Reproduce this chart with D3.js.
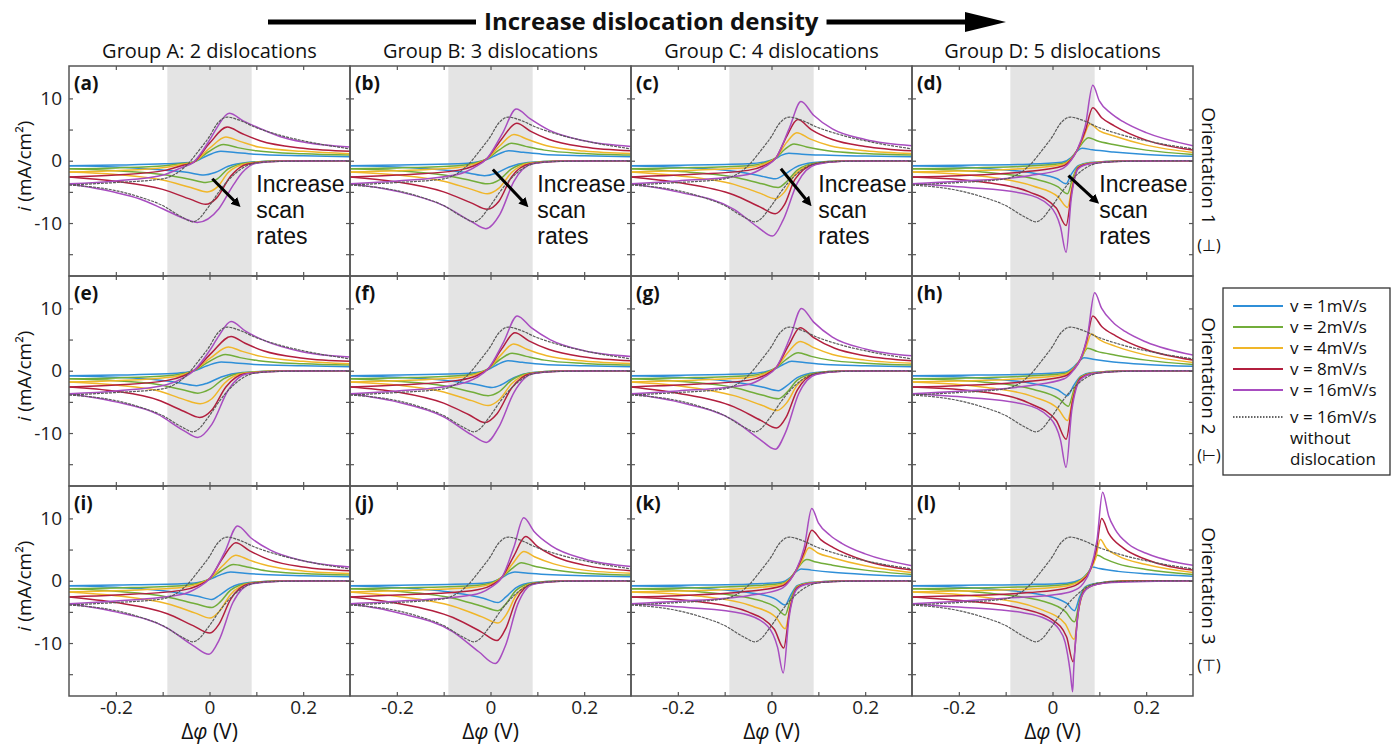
<!DOCTYPE html>
<html>
<head>
<meta charset="utf-8">
<script src="https://cdn.jsdelivr.net/npm/d3@7"></script>
<style>
  body { margin: 0; background: #fff; }
  svg { font-family: "Open Sans", sans-serif; }
</style>
</head>
<body>
<div id="chart"></div>
<script>
// labels
var groupTitles = ["Group A: 2 dislocations", "Group B: 3 dislocations", "Group C: 4 dislocations", "Group D: 5 dislocations"];
var orientLabels = ["Orientation 1", "Orientation 2", "Orientation 3"];
var orientSymbols = ["(\u22A5)", "(\u22A2)", "(\u22A4)"];
var panelLetters = ["(a)", "(b)", "(c)", "(d)", "(e)", "(f)", "(g)", "(h)", "(i)", "(j)", "(k)", "(l)"];
var rateLabels = ["v = 1mV/s", "v = 2mV/s", "v = 4mV/s", "v = 8mV/s", "v = 16mV/s"];
var rateColors = ["#2f8fd8", "#72ad3a", "#f0b629", "#b21f3e", "#a84dc0"];
var xTicks = [-0.2, -0.1, 0, 0.1, 0.2];
var xTickLabels = [-0.2, 0, 0.2];
var yTicks = [-15, -10, -5, 0, 5, 10];
var yTickLabels = [-10, 0, 10];

// reference curve without dislocation (same in every panel)
var grayFwd = [[-0.3,-3.9],[-0.2,-3.5],[-0.1,-2.9],[-0.07,-2.0],[-0.05,-0.8],[-0.02,1.9],[0,3.9],[0.015,5.8],[0.038,7.0],[0.06,6.6],[0.1,5.3],[0.15,4.1],[0.2,3.2],[0.3,1.9]];
var grayRev = [[0.3,0],[0.15,-0.1],[0.1,-0.35],[0.07,-1.2],[0.05,-2.4],[0.02,-5.0],[0,-7.2],[-0.035,-9.8],[-0.06,-9.0],[-0.1,-7.2],[-0.15,-5.8],[-0.2,-4.8],[-0.3,-3.9]];

// (a)
var fwdA = [
  [[-0.3,-0.8],[-0.2,-0.7],[-0.095,-0.5],[-0.06,-0.35],[-0.035,-0.2],[-0.005,0.8],[0.024,1.5],[0.055,1.3],[0.095,1.05],[0.2,0.8],[0.3,0.65]],
  [[-0.3,-1.3],[-0.2,-1.15],[-0.095,-0.8],[-0.06,-0.45],[-0.035,-0.25],[-0.003,1.4],[0.03,2.6],[0.06,2.1],[0.1,1.6],[0.2,1.1],[0.3,0.9]],
  [[-0.3,-1.8],[-0.2,-1.6],[-0.095,-1.1],[-0.06,-0.6],[-0.035,-0.25],[0,2.0],[0.035,3.8],[0.065,3.1],[0.105,2.2],[0.2,1.5],[0.3,1.1]],
  [[-0.3,-2.6],[-0.2,-2.3],[-0.095,-1.55],[-0.06,-0.8],[-0.035,-0.3],[0,2.8],[0.038,5.4],[0.068,4.4],[0.108,3.2],[0.2,2.0],[0.3,1.5]],
  [[-0.3,-3.7],[-0.2,-3.25],[-0.095,-2.2],[-0.06,-1.1],[-0.035,-0.3],[0,3.3],[0.015,5.2],[0.042,7.6],[0.072,6.4],[0.11,5.1],[0.15,3.9],[0.2,3.0],[0.3,2.2]]
];
var revA = [
  [[0.3,0],[0.15,-0.05],[0.08,-0.3],[0.04,-0.9],[0.012,-1.9],[-0.012,-2.3],[-0.045,-1.9],[-0.1,-1.5],[-0.2,-1.0],[-0.3,-0.8]],
  [[0.3,0],[0.15,-0.05],[0.08,-0.35],[0.04,-1.3],[0.015,-3.0],[-0.008,-3.5],[-0.04,-3.0],[-0.1,-2.2],[-0.2,-1.6],[-0.3,-1.3]],
  [[0.3,0],[0.15,-0.06],[0.08,-0.45],[0.04,-1.9],[0.017,-4.2],[-0.005,-5.0],[-0.04,-4.3],[-0.1,-3.1],[-0.2,-2.2],[-0.3,-1.8]],
  [[0.3,0],[0.15,-0.08],[0.08,-0.55],[0.045,-2.5],[0.015,-6.0],[-0.008,-7.0],[-0.04,-6.2],[-0.1,-4.6],[-0.2,-3.3],[-0.3,-2.6]],
  [[0.3,0],[0.15,-0.1],[0.1,-0.4],[0.07,-1.9],[0.05,-4.0],[0.02,-7.7],[-0.026,-9.9],[-0.05,-9.4],[-0.1,-7.7],[-0.15,-6.1],[-0.2,-5.1],[-0.3,-3.7]]
];

// (b)
var fwdB = [
  [[-0.3,-0.8],[-0.2,-0.7],[-0.07,-0.5],[-0.035,-0.3],[-0.008,0.2],[0.015,1.0],[0.039,1.6],[0.07,1.35],[0.11,1.05],[0.2,0.8],[0.3,0.65]],
  [[-0.3,-1.3],[-0.2,-1.15],[-0.07,-0.8],[-0.035,-0.4],[-0.008,0.3],[0.018,1.7],[0.045,2.8],[0.075,2.3],[0.115,1.7],[0.2,1.15],[0.3,0.9]],
  [[-0.3,-1.8],[-0.2,-1.6],[-0.07,-1.1],[-0.035,-0.55],[-0.008,0.3],[0.02,2.4],[0.05,4.2],[0.08,3.4],[0.12,2.4],[0.2,1.55],[0.3,1.15]],
  [[-0.3,-2.6],[-0.2,-2.3],[-0.07,-1.55],[-0.035,-0.8],[-0.008,0.3],[0.022,3.3],[0.056,6.0],[0.086,4.7],[0.125,3.4],[0.2,2.2],[0.3,1.6]],
  [[-0.3,-3.7],[-0.2,-3.25],[-0.07,-2.2],[-0.035,-1.1],[-0.008,0.3],[0.025,4.3],[0.055,8.3],[0.085,6.7],[0.125,4.9],[0.2,3.2],[0.3,2.3]]
];
var revB = [
  [[0.3,0],[0.15,-0.05],[0.08,-0.3],[0.04,-1.0],[0.012,-2.0],[-0.013,-2.4],[-0.045,-2.0],[-0.1,-1.5],[-0.2,-1.0],[-0.3,-0.8]],
  [[0.3,0],[0.15,-0.05],[0.08,-0.35],[0.045,-1.3],[0.018,-3.1],[-0.007,-3.7],[-0.04,-3.2],[-0.1,-2.3],[-0.2,-1.6],[-0.3,-1.3]],
  [[0.3,0],[0.15,-0.06],[0.08,-0.45],[0.045,-1.9],[0.018,-4.4],[-0.007,-5.3],[-0.04,-4.6],[-0.1,-3.3],[-0.2,-2.3],[-0.3,-1.8]],
  [[0.3,0],[0.15,-0.08],[0.085,-0.5],[0.045,-2.6],[0.018,-6.5],[-0.007,-7.8],[-0.04,-6.8],[-0.1,-5.0],[-0.2,-3.4],[-0.3,-2.6]],
  [[0.3,0],[0.15,-0.1],[0.09,-0.5],[0.05,-3.3],[0.02,-8.6],[-0.01,-10.9],[-0.04,-9.8],[-0.1,-7.2],[-0.2,-4.9],[-0.3,-3.7]]
];

// (c)
var fwdC = [
  [[-0.3,-0.8],[-0.2,-0.72],[-0.05,-0.5],[-0.015,-0.2],[0.01,0.4],[0.022,0.9],[0.037,1.2],[0.065,1.05],[0.11,0.9],[0.2,0.75],[0.3,0.65]],
  [[-0.3,-1.3],[-0.2,-1.15],[-0.05,-0.8],[-0.015,-0.35],[0.01,0.5],[0.028,1.8],[0.048,2.7],[0.075,2.2],[0.12,1.6],[0.2,1.15],[0.3,0.9]],
  [[-0.3,-1.8],[-0.2,-1.6],[-0.05,-1.1],[-0.015,-0.5],[0.01,0.5],[0.032,2.9],[0.054,4.5],[0.082,3.5],[0.125,2.4],[0.2,1.6],[0.3,1.15]],
  [[-0.3,-2.6],[-0.2,-2.3],[-0.05,-1.55],[-0.015,-0.75],[0.01,0.5],[0.033,4.0],[0.056,6.6],[0.085,5.0],[0.13,3.4],[0.2,2.3],[0.3,1.6]],
  [[-0.3,-3.7],[-0.2,-3.25],[-0.05,-2.2],[-0.015,-1.0],[0.01,0.5],[0.038,5.2],[0.063,9.5],[0.09,7.3],[0.13,5.1],[0.2,3.4],[0.3,2.4]]
];
var revC = [
  [[0.3,0],[0.15,-0.05],[0.09,-0.3],[0.05,-1.1],[0.028,-2.2],[0.008,-2.9],[-0.025,-2.4],[-0.08,-1.7],[-0.2,-1.05],[-0.3,-0.8]],
  [[0.3,0],[0.15,-0.05],[0.095,-0.35],[0.055,-1.5],[0.033,-3.3],[0.014,-4.3],[-0.02,-3.7],[-0.08,-2.6],[-0.2,-1.7],[-0.3,-1.3]],
  [[0.3,0],[0.15,-0.06],[0.095,-0.45],[0.05,-2.2],[0.028,-5.0],[0.008,-6.1],[-0.025,-5.2],[-0.08,-3.8],[-0.2,-2.4],[-0.3,-1.8]],
  [[0.3,0],[0.15,-0.08],[0.095,-0.5],[0.05,-3.0],[0.028,-7.0],[0.008,-8.5],[-0.025,-7.4],[-0.08,-5.5],[-0.2,-3.5],[-0.3,-2.6]],
  [[0.3,0],[0.15,-0.1],[0.095,-0.6],[0.055,-3.6],[0.025,-9.5],[0.002,-12.1],[-0.03,-10.6],[-0.08,-7.8],[-0.2,-5.0],[-0.3,-3.7]]
];

// (d)
var fwdD = [
  [[-0.3,-0.8],[-0.2,-0.72],[-0.05,-0.55],[0.02,-0.25],[0.04,0.5],[0.052,1.5],[0.063,2.0],[0.085,1.75],[0.13,1.4],[0.2,1.0],[0.3,0.7]],
  [[-0.3,-1.3],[-0.2,-1.2],[-0.05,-0.85],[0.02,-0.45],[0.04,0.4],[0.052,1.6],[0.077,3.7],[0.095,3.2],[0.13,2.6],[0.2,1.7],[0.3,1.0]],
  [[-0.3,-1.8],[-0.2,-1.65],[-0.05,-1.2],[0.02,-0.65],[0.04,0.3],[0.052,1.6],[0.065,3.5],[0.08,5.9],[0.1,4.8],[0.13,4.0],[0.2,2.5],[0.3,1.3]],
  [[-0.3,-2.6],[-0.2,-2.4],[-0.05,-1.7],[0.02,-0.9],[0.04,0.2],[0.052,1.6],[0.07,4.8],[0.086,8.5],[0.105,6.9],[0.132,5.6],[0.2,3.3],[0.3,1.7]],
  [[-0.3,-3.7],[-0.2,-3.3],[-0.05,-2.4],[0.02,-1.3],[0.04,0.1],[0.052,1.6],[0.07,5.6],[0.086,12.1],[0.1,9.6],[0.125,7.6],[0.15,6.3],[0.2,4.5],[0.3,2.4]]
];
var revD = [
  [[0.3,0],[0.15,-0.05],[0.08,-0.3],[0.055,-0.8],[0.04,-2.2],[0.029,-3.7],[0.01,-2.9],[-0.04,-2.0],[-0.15,-1.2],[-0.3,-0.8]],
  [[0.3,0],[0.15,-0.05],[0.08,-0.35],[0.055,-0.9],[0.043,-2.8],[0.032,-5.3],[0.012,-4.2],[-0.04,-2.9],[-0.15,-1.8],[-0.3,-1.3]],
  [[0.3,0],[0.15,-0.06],[0.08,-0.4],[0.055,-1.0],[0.043,-3.6],[0.032,-7.5],[0.012,-5.8],[-0.04,-4.1],[-0.15,-2.5],[-0.3,-1.8]],
  [[0.3,0],[0.15,-0.08],[0.08,-0.45],[0.055,-1.1],[0.042,-4.5],[0.029,-10.4],[0.008,-7.6],[-0.05,-5.0],[-0.15,-3.4],[-0.3,-2.6]],
  [[0.3,0],[0.15,-0.1],[0.08,-0.5],[0.055,-1.3],[0.04,-6.1],[0.029,-14.7],[0.017,-10.6],[-0.005,-7.3],[-0.06,-5.3],[-0.18,-4.3],[-0.3,-3.7]]
];

// (e)
var fwdE = [
  [[-0.3,-0.8],[-0.2,-0.7],[-0.09,-0.5],[-0.055,-0.3],[-0.032,0.0],[-0.005,0.8],[0.025,1.4],[0.055,1.25],[0.095,1.0],[0.2,0.8],[0.3,0.65]],
  [[-0.3,-1.3],[-0.2,-1.15],[-0.09,-0.8],[-0.055,-0.45],[-0.032,0.05],[0,1.5],[0.034,2.6],[0.065,2.1],[0.105,1.6],[0.2,1.1],[0.3,0.9]],
  [[-0.3,-1.8],[-0.2,-1.6],[-0.09,-1.1],[-0.055,-0.6],[-0.032,0.1],[0.003,2.1],[0.04,3.8],[0.07,3.1],[0.11,2.3],[0.2,1.5],[0.3,1.1]],
  [[-0.3,-2.6],[-0.2,-2.3],[-0.09,-1.55],[-0.055,-0.8],[-0.032,0.1],[0.005,2.9],[0.046,5.5],[0.076,4.4],[0.115,3.2],[0.2,2.0],[0.3,1.5]],
  [[-0.3,-3.7],[-0.2,-3.25],[-0.09,-2.2],[-0.055,-1.1],[-0.032,0.1],[0,3.2],[0.02,5.6],[0.046,7.9],[0.076,6.4],[0.115,4.9],[0.2,3.0],[0.3,2.2]]
];
var revE = [
  [[0.3,0],[0.15,-0.05],[0.07,-0.3],[0.025,-1.0],[-0.005,-2.0],[-0.028,-2.4],[-0.06,-2.0],[-0.11,-1.5],[-0.2,-1.05],[-0.3,-0.8]],
  [[0.3,0],[0.15,-0.05],[0.07,-0.35],[0.03,-1.3],[0,-3.0],[-0.025,-3.6],[-0.055,-3.1],[-0.11,-2.2],[-0.2,-1.6],[-0.3,-1.3]],
  [[0.3,0],[0.15,-0.06],[0.07,-0.45],[0.032,-2.0],[0.005,-4.5],[-0.02,-5.3],[-0.055,-4.6],[-0.11,-3.2],[-0.2,-2.3],[-0.3,-1.8]],
  [[0.3,0],[0.15,-0.08],[0.075,-0.5],[0.035,-2.6],[0.005,-6.3],[-0.021,-7.5],[-0.055,-6.5],[-0.11,-4.7],[-0.2,-3.3],[-0.3,-2.6]],
  [[0.3,0],[0.15,-0.1],[0.08,-0.5],[0.04,-3.1],[0.005,-8.6],[-0.025,-10.7],[-0.055,-9.6],[-0.11,-7.0],[-0.2,-5.0],[-0.3,-3.7]]
];

// (f)
var fwdF = [
  [[-0.3,-0.8],[-0.2,-0.7],[-0.07,-0.5],[-0.03,-0.3],[-0.005,0.2],[0.015,1.0],[0.037,1.6],[0.068,1.35],[0.11,1.05],[0.2,0.8],[0.3,0.65]],
  [[-0.3,-1.3],[-0.2,-1.15],[-0.07,-0.8],[-0.03,-0.4],[-0.005,0.3],[0.02,1.8],[0.046,2.8],[0.076,2.3],[0.115,1.7],[0.2,1.15],[0.3,0.9]],
  [[-0.3,-1.8],[-0.2,-1.6],[-0.07,-1.1],[-0.03,-0.55],[-0.005,0.3],[0.022,2.5],[0.049,4.3],[0.079,3.4],[0.12,2.4],[0.2,1.55],[0.3,1.15]],
  [[-0.3,-2.6],[-0.2,-2.3],[-0.07,-1.55],[-0.03,-0.8],[-0.005,0.3],[0.024,3.5],[0.052,6.1],[0.082,4.8],[0.125,3.4],[0.2,2.2],[0.3,1.6]],
  [[-0.3,-3.7],[-0.2,-3.25],[-0.07,-2.2],[-0.03,-1.1],[-0.005,0.3],[0.028,4.6],[0.057,8.8],[0.087,6.9],[0.127,5.0],[0.2,3.2],[0.3,2.3]]
];
var revF = [
  [[0.3,0],[0.15,-0.05],[0.09,-0.3],[0.05,-1.1],[0.022,-2.3],[0.003,-2.7],[-0.03,-2.2],[-0.09,-1.6],[-0.2,-1.05],[-0.3,-0.8]],
  [[0.3,0],[0.15,-0.05],[0.085,-0.35],[0.045,-1.5],[0.018,-3.4],[-0.005,-4.0],[-0.04,-3.4],[-0.1,-2.4],[-0.2,-1.7],[-0.3,-1.3]],
  [[0.3,0],[0.15,-0.06],[0.085,-0.45],[0.045,-2.1],[0.018,-4.7],[-0.005,-5.6],[-0.04,-4.8],[-0.1,-3.4],[-0.2,-2.3],[-0.3,-1.8]],
  [[0.3,0],[0.15,-0.08],[0.085,-0.5],[0.045,-2.8],[0.014,-6.9],[-0.012,-8.3],[-0.045,-7.1],[-0.1,-5.2],[-0.2,-3.4],[-0.3,-2.6]],
  [[0.3,0],[0.15,-0.1],[0.09,-0.5],[0.05,-3.5],[0.018,-9.0],[-0.009,-11.5],[-0.04,-10.3],[-0.1,-7.4],[-0.2,-5.0],[-0.3,-3.7]]
];

// (g)
var fwdG = [
  [[-0.3,-0.8],[-0.2,-0.72],[-0.05,-0.5],[-0.015,-0.2],[0.01,0.4],[0.025,1.0],[0.043,1.5],[0.07,1.3],[0.115,1.0],[0.2,0.8],[0.3,0.65]],
  [[-0.3,-1.3],[-0.2,-1.15],[-0.05,-0.8],[-0.015,-0.35],[0.01,0.5],[0.033,1.9],[0.057,2.9],[0.085,2.3],[0.125,1.7],[0.2,1.2],[0.3,0.9]],
  [[-0.3,-1.8],[-0.2,-1.6],[-0.05,-1.1],[-0.015,-0.5],[0.01,0.5],[0.036,3.0],[0.061,4.7],[0.09,3.7],[0.13,2.6],[0.2,1.7],[0.3,1.2]],
  [[-0.3,-2.6],[-0.2,-2.3],[-0.05,-1.55],[-0.015,-0.75],[0.01,0.5],[0.037,4.1],[0.061,6.9],[0.09,5.3],[0.135,3.6],[0.2,2.4],[0.3,1.6]],
  [[-0.3,-3.7],[-0.2,-3.25],[-0.05,-2.2],[-0.015,-1.0],[0.01,0.5],[0.04,5.4],[0.064,10.0],[0.09,7.8],[0.13,5.4],[0.2,3.5],[0.3,2.4]]
];
var revG = [
  [[0.3,0],[0.15,-0.05],[0.095,-0.3],[0.055,-1.1],[0.033,-2.4],[0.015,-3.2],[-0.02,-2.6],[-0.08,-1.8],[-0.2,-1.05],[-0.3,-0.8]],
  [[0.3,0],[0.15,-0.05],[0.095,-0.35],[0.055,-1.5],[0.034,-3.4],[0.015,-4.5],[-0.02,-3.9],[-0.08,-2.7],[-0.2,-1.7],[-0.3,-1.3]],
  [[0.3,0],[0.15,-0.06],[0.095,-0.45],[0.055,-2.3],[0.032,-5.2],[0.012,-6.4],[-0.022,-5.5],[-0.08,-4.0],[-0.2,-2.4],[-0.3,-1.8]],
  [[0.3,0],[0.15,-0.08],[0.095,-0.5],[0.055,-3.1],[0.031,-7.5],[0.011,-9.2],[-0.022,-8.0],[-0.08,-5.8],[-0.2,-3.6],[-0.3,-2.6]],
  [[0.3,0],[0.15,-0.1],[0.095,-0.6],[0.058,-3.7],[0.03,-9.9],[0.008,-12.6],[-0.025,-11.0],[-0.08,-8.0],[-0.2,-5.0],[-0.3,-3.7]]
];

// (h)
var fwdH = [
  [[-0.3,-0.8],[-0.2,-0.72],[-0.05,-0.55],[0.025,-0.25],[0.045,0.6],[0.058,1.6],[0.067,2.1],[0.09,1.8],[0.13,1.4],[0.2,1.0],[0.3,0.7]],
  [[-0.3,-1.3],[-0.2,-1.2],[-0.05,-0.85],[0.025,-0.45],[0.045,0.4],[0.06,1.8],[0.075,3.6],[0.095,3.1],[0.135,2.5],[0.2,1.7],[0.3,1.0]],
  [[-0.3,-1.8],[-0.2,-1.65],[-0.05,-1.2],[0.025,-0.65],[0.045,0.3],[0.06,1.9],[0.07,3.4],[0.083,5.9],[0.1,5.0],[0.135,3.9],[0.2,2.5],[0.3,1.3]],
  [[-0.3,-2.6],[-0.2,-2.4],[-0.05,-1.7],[0.025,-0.9],[0.045,0.2],[0.06,1.9],[0.073,4.8],[0.086,8.8],[0.105,7.1],[0.135,5.6],[0.2,3.4],[0.3,1.7]],
  [[-0.3,-3.7],[-0.2,-3.3],[-0.05,-2.4],[0.025,-1.3],[0.045,0.1],[0.06,1.9],[0.075,5.8],[0.09,12.5],[0.105,10.0],[0.13,7.7],[0.155,6.3],[0.2,4.6],[0.3,2.5]]
];
var revH = [
  [[0.3,0],[0.15,-0.05],[0.085,-0.3],[0.06,-0.9],[0.045,-2.4],[0.032,-4.0],[0.012,-3.1],[-0.04,-2.1],[-0.15,-1.2],[-0.3,-0.8]],
  [[0.3,0],[0.15,-0.05],[0.085,-0.35],[0.06,-1.0],[0.046,-3.0],[0.034,-5.7],[0.014,-4.5],[-0.04,-3.0],[-0.15,-1.8],[-0.3,-1.3]],
  [[0.3,0],[0.15,-0.06],[0.085,-0.4],[0.06,-1.1],[0.045,-3.8],[0.032,-8.0],[0.012,-6.1],[-0.04,-4.2],[-0.15,-2.6],[-0.3,-1.8]],
  [[0.3,0],[0.15,-0.08],[0.085,-0.45],[0.06,-1.2],[0.043,-4.8],[0.029,-11.0],[0.008,-8.0],[-0.05,-5.2],[-0.15,-3.4],[-0.3,-2.6]],
  [[0.3,0],[0.15,-0.1],[0.085,-0.5],[0.06,-1.4],[0.041,-6.5],[0.029,-15.5],[0.017,-11.1],[-0.005,-7.6],[-0.06,-5.4],[-0.18,-4.3],[-0.3,-3.7]]
];

// (i)
var fwdI = [
  [[-0.3,-0.8],[-0.2,-0.7],[-0.06,-0.5],[-0.025,-0.3],[0,0.2],[0.022,0.9],[0.045,1.4],[0.075,1.2],[0.115,1.0],[0.2,0.8],[0.3,0.65]],
  [[-0.3,-1.3],[-0.2,-1.15],[-0.06,-0.8],[-0.025,-0.4],[0,0.3],[0.025,1.6],[0.051,2.6],[0.08,2.2],[0.12,1.6],[0.2,1.15],[0.3,0.9]],
  [[-0.3,-1.8],[-0.2,-1.6],[-0.06,-1.1],[-0.025,-0.55],[0,0.3],[0.028,2.4],[0.056,4.1],[0.085,3.3],[0.125,2.4],[0.2,1.55],[0.3,1.15]],
  [[-0.3,-2.6],[-0.2,-2.3],[-0.06,-1.55],[-0.025,-0.8],[0,0.3],[0.028,3.6],[0.056,6.1],[0.086,4.8],[0.13,3.3],[0.2,2.2],[0.3,1.6]],
  [[-0.3,-3.7],[-0.2,-3.25],[-0.06,-2.2],[-0.025,-1.1],[0,0.3],[0.032,4.5],[0.06,8.8],[0.088,6.9],[0.13,4.9],[0.2,3.2],[0.3,2.2]]
];
var revI = [
  [[0.3,0],[0.15,-0.05],[0.085,-0.3],[0.045,-1.1],[0.022,-2.3],[0.005,-3.0],[-0.025,-2.5],[-0.09,-1.7],[-0.2,-1.05],[-0.3,-0.8]],
  [[0.3,0],[0.15,-0.05],[0.085,-0.35],[0.045,-1.5],[0.023,-3.4],[0.005,-4.3],[-0.03,-3.7],[-0.09,-2.6],[-0.2,-1.7],[-0.3,-1.3]],
  [[0.3,0],[0.15,-0.06],[0.085,-0.45],[0.045,-2.2],[0.02,-5.0],[0.001,-6.0],[-0.03,-5.2],[-0.09,-3.7],[-0.2,-2.4],[-0.3,-1.8]],
  [[0.3,0],[0.15,-0.08],[0.085,-0.5],[0.045,-3.0],[0.02,-7.0],[0.001,-8.4],[-0.035,-7.2],[-0.09,-5.3],[-0.2,-3.5],[-0.3,-2.6]],
  [[0.3,0],[0.15,-0.1],[0.09,-0.5],[0.05,-3.5],[0.02,-9.6],[-0.001,-11.8],[-0.035,-10.4],[-0.09,-7.6],[-0.2,-5.0],[-0.3,-3.7]]
];

// (j)
var fwdJ = [
  [[-0.3,-0.8],[-0.2,-0.72],[-0.04,-0.5],[0,-0.25],[0.025,0.5],[0.038,1.1],[0.052,1.4],[0.08,1.2],[0.12,1.0],[0.2,0.8],[0.3,0.65]],
  [[-0.3,-1.3],[-0.2,-1.15],[-0.04,-0.8],[0,-0.4],[0.025,0.6],[0.045,1.9],[0.066,2.9],[0.09,2.4],[0.13,1.8],[0.2,1.2],[0.3,0.9]],
  [[-0.3,-1.8],[-0.2,-1.6],[-0.04,-1.1],[0,-0.55],[0.025,0.6],[0.048,2.8],[0.071,4.7],[0.095,3.8],[0.135,2.7],[0.2,1.7],[0.3,1.2]],
  [[-0.3,-2.6],[-0.2,-2.3],[-0.04,-1.6],[0,-0.8],[0.025,0.6],[0.05,4.0],[0.075,7.1],[0.1,5.5],[0.14,3.8],[0.2,2.5],[0.3,1.6]],
  [[-0.3,-3.7],[-0.2,-3.3],[-0.04,-2.3],[0,-1.1],[0.025,0.6],[0.05,5.4],[0.071,10.1],[0.093,7.9],[0.13,5.6],[0.2,3.5],[0.3,2.3]]
];
var revJ = [
  [[0.3,0],[0.15,-0.05],[0.09,-0.3],[0.055,-1.1],[0.033,-2.6],[0.016,-3.5],[-0.015,-2.8],[-0.08,-1.9],[-0.2,-1.1],[-0.3,-0.8]],
  [[0.3,0],[0.15,-0.05],[0.09,-0.35],[0.055,-1.5],[0.034,-3.6],[0.016,-4.8],[-0.018,-4.1],[-0.08,-2.8],[-0.2,-1.7],[-0.3,-1.3]],
  [[0.3,0],[0.15,-0.06],[0.09,-0.45],[0.055,-2.3],[0.034,-5.4],[0.016,-6.8],[-0.018,-5.8],[-0.08,-4.1],[-0.2,-2.5],[-0.3,-1.8]],
  [[0.3,0],[0.15,-0.08],[0.09,-0.5],[0.055,-3.1],[0.033,-7.6],[0.014,-9.6],[-0.02,-8.2],[-0.08,-5.9],[-0.2,-3.6],[-0.3,-2.6]],
  [[0.3,0],[0.15,-0.1],[0.09,-0.6],[0.058,-3.8],[0.032,-10.4],[0.01,-13.3],[-0.025,-11.4],[-0.08,-8.2],[-0.2,-5.1],[-0.3,-3.7]]
];

// (k)
var fwdK = [
  [[-0.3,-0.8],[-0.2,-0.72],[-0.05,-0.55],[0.02,-0.25],[0.04,0.5],[0.052,1.4],[0.063,1.9],[0.085,1.7],[0.13,1.35],[0.2,1.0],[0.3,0.7]],
  [[-0.3,-1.3],[-0.2,-1.2],[-0.05,-0.85],[0.02,-0.45],[0.04,0.4],[0.052,1.6],[0.075,3.4],[0.095,3.0],[0.13,2.5],[0.2,1.7],[0.3,1.0]],
  [[-0.3,-1.8],[-0.2,-1.65],[-0.05,-1.2],[0.02,-0.65],[0.04,0.3],[0.052,1.6],[0.065,3.2],[0.08,5.3],[0.1,4.4],[0.13,3.7],[0.2,2.4],[0.3,1.3]],
  [[-0.3,-2.6],[-0.2,-2.4],[-0.05,-1.7],[0.02,-0.9],[0.04,0.2],[0.052,1.6],[0.07,4.6],[0.086,8.1],[0.105,6.6],[0.132,5.3],[0.2,3.2],[0.3,1.7]],
  [[-0.3,-3.7],[-0.2,-3.3],[-0.05,-2.4],[0.02,-1.3],[0.04,0.1],[0.052,1.6],[0.07,5.4],[0.086,11.6],[0.1,9.3],[0.125,7.3],[0.15,6.0],[0.2,4.3],[0.3,2.4]]
];
var revK = [
  [[0.3,0],[0.15,-0.05],[0.08,-0.3],[0.055,-0.8],[0.041,-2.3],[0.029,-3.9],[0.01,-3.0],[-0.04,-2.0],[-0.15,-1.2],[-0.3,-0.8]],
  [[0.3,0],[0.15,-0.05],[0.08,-0.35],[0.055,-0.9],[0.041,-2.9],[0.029,-5.5],[0.01,-4.3],[-0.04,-2.9],[-0.15,-1.8],[-0.3,-1.3]],
  [[0.3,0],[0.15,-0.06],[0.08,-0.4],[0.055,-1.0],[0.041,-3.7],[0.029,-7.7],[0.01,-5.9],[-0.04,-4.1],[-0.15,-2.5],[-0.3,-1.8]],
  [[0.3,0],[0.15,-0.08],[0.08,-0.45],[0.055,-1.1],[0.039,-4.7],[0.026,-10.8],[0.006,-7.8],[-0.05,-5.0],[-0.15,-3.4],[-0.3,-2.6]],
  [[0.3,0],[0.15,-0.1],[0.08,-0.5],[0.055,-1.3],[0.037,-6.2],[0.025,-14.8],[0.013,-10.7],[-0.008,-7.3],[-0.06,-5.3],[-0.18,-4.3],[-0.3,-3.7]]
];

// (l)
var fwdL = [
  [[-0.3,-0.8],[-0.2,-0.72],[-0.05,-0.6],[0.03,-0.4],[0.06,0.2],[0.075,1.2],[0.085,2.2],[0.1,1.95],[0.14,1.5],[0.2,1.1],[0.3,0.7]],
  [[-0.3,-1.3],[-0.2,-1.2],[-0.05,-0.95],[0.03,-0.6],[0.06,0.1],[0.078,1.5],[0.096,4.1],[0.112,3.5],[0.14,2.7],[0.2,1.8],[0.3,1.0]],
  [[-0.3,-1.8],[-0.2,-1.65],[-0.05,-1.35],[0.03,-0.85],[0.06,0],[0.08,1.6],[0.092,3.6],[0.102,6.6],[0.115,5.2],[0.14,4.0],[0.2,2.6],[0.3,1.3]],
  [[-0.3,-2.6],[-0.2,-2.4],[-0.05,-1.9],[0.03,-1.2],[0.06,-0.2],[0.08,1.6],[0.093,4.8],[0.105,10.0],[0.12,7.6],[0.15,5.3],[0.2,3.4],[0.3,1.7]],
  [[-0.3,-3.7],[-0.2,-3.3],[-0.1,-2.8],[0,-2.3],[0.042,-1.7],[0.065,-0.5],[0.08,1.6],[0.095,6.5],[0.107,14.2],[0.12,10.4],[0.134,8.2],[0.162,5.9],[0.2,4.4],[0.255,3.1],[0.3,2.5]]
];
var revL = [
  [[0.3,0],[0.15,-0.05],[0.095,-0.4],[0.07,-1.0],[0.058,-2.6],[0.047,-4.8],[0.03,-3.6],[-0.02,-2.3],[-0.15,-1.25],[-0.3,-0.8]],
  [[0.3,0],[0.15,-0.05],[0.095,-0.45],[0.07,-1.1],[0.058,-3.2],[0.047,-6.6],[0.028,-5.0],[-0.02,-3.3],[-0.15,-1.9],[-0.3,-1.3]],
  [[0.3,0],[0.15,-0.06],[0.095,-0.5],[0.07,-1.3],[0.057,-4.2],[0.046,-9.4],[0.027,-6.9],[-0.025,-4.6],[-0.15,-2.6],[-0.3,-1.8]],
  [[0.3,0],[0.15,-0.08],[0.095,-0.55],[0.068,-1.6],[0.054,-5.5],[0.044,-13.0],[0.03,-9.0],[0,-6.3],[-0.07,-4.4],[-0.18,-3.3],[-0.3,-2.6]],
  [[0.3,0],[0.127,-0.3],[0.084,-0.8],[0.063,-2.4],[0.052,-7.2],[0.045,-14.7],[0.043,-17.8],[0.038,-14.7],[0.027,-9.9],[0.013,-7.7],[-0.015,-6.1],[-0.065,-5.1],[-0.122,-4.6],[-0.23,-4.1],[-0.3,-3.7]]
];

var panelData = [
  [fwdA, revA], [fwdB, revB], [fwdC, revC], [fwdD, revD],
  [fwdE, revE], [fwdF, revF], [fwdG, revG], [fwdH, revH],
  [fwdI, revI], [fwdJ, revJ], [fwdK, revK], [fwdL, revL]
];

// layout
var svgWidth = 1398;
var svgHeight = 747;
var left0 = 69, top0 = 66;
var pw = 281, ph = 210;

var svg = d3.select("#chart").append("svg")
  .attr("width", svgWidth)
  .attr("height", svgHeight);

var x = d3.scaleLinear().domain([-0.3, 0.3]).range([0, pw]);
var y = d3.scaleLinear().domain([-18.5, 15.2]).range([ph, 0]);

var line = d3.line()
  .x(d => x(d[0]))
  .y(d => y(d[1]))
  .curve(d3.curveMonotoneX);

function sorted(pts) {
  return pts.slice().sort((a, b) => a[0] - b[0]);
}

svg.append("defs").append("marker")
  .attr("id", "arrowhead")
  .attr("viewBox", "0 0 10 10")
  .attr("refX", 5).attr("refY", 5)
  .attr("markerWidth", 3.2).attr("markerHeight", 3.2)
  .attr("orient", "auto")
  .append("path")
  .attr("d", "M0,0 L10,5 L0,10 z")
  .attr("fill", "#000");

panelData.forEach(function(pd, idx) {
  var col = idx % 4, row = Math.floor(idx / 4);
  var g = svg.append("g")
    .attr("transform", `translate(${left0 + col * pw}, ${top0 + row * ph})`);

  g.append("clipPath").attr("id", "clip" + idx)
    .append("rect").attr("width", pw).attr("height", ph);

  // shaded band
  g.append("rect")
    .attr("x", x(-0.09)).attr("y", 0)
    .attr("width", x(0.09) - x(-0.09)).attr("height", ph)
    .attr("fill", "#e4e4e4");

  var curves = g.append("g").attr("clip-path", `url(#clip${idx})`);
  for (var k = 0; k < 5; k++) {
    [pd[0][k], pd[1][k]].forEach(function(branch) {
      curves.append("path")
        .attr("d", line(sorted(branch)))
        .attr("fill", "none")
        .attr("stroke", rateColors[k])
        .attr("stroke-width", 1.5);
    });
  }
  [grayFwd, grayRev].forEach(function(branch) {
    curves.append("path")
      .attr("d", line(sorted(branch)))
      .attr("fill", "none")
      .attr("stroke", "#5a5a5a")
      .attr("stroke-width", 1.2)
      .attr("stroke-dasharray", "3,1");
  });

  // axes with inward ticks
  var bottom = g.append("g").attr("transform", `translate(0, ${ph})`)
    .call(d3.axisBottom(x).tickValues(xTicks).tickSize(-4).tickPadding(4)
      .tickFormat(d => (row === 2 && xTickLabels.includes(d)) ? String(d) : ""));
  var topAx = g.append("g")
    .call(d3.axisTop(x).tickValues(xTicks).tickSize(-4).tickFormat(""));
  var leftAx = g.append("g")
    .call(d3.axisLeft(y).tickValues(yTicks).tickSize(-4).tickPadding(7)
      .tickFormat(d => (col === 0 && yTickLabels.includes(d)) ? String(d) : ""));
  var rightAx = g.append("g").attr("transform", `translate(${pw}, 0)`)
    .call(d3.axisRight(y).tickValues(yTicks).tickSize(-4).tickFormat(""));
  [bottom, topAx, leftAx, rightAx].forEach(function(a) {
    a.select(".domain").remove();
    a.selectAll(".tick line").attr("stroke", "#555").attr("stroke-width", 1.2);
    a.selectAll(".tick text").attr("font-size", 19).attr("fill", "#222")
      .attr("font-family", "'Open Sans', sans-serif");
  });

  g.append("rect")
    .attr("width", pw).attr("height", ph)
    .attr("fill", "none")
    .attr("stroke", "#555")
    .attr("stroke-width", 1.5);

  g.append("text")
    .attr("x", 5).attr("y", 24)
    .attr("font-size", 19).attr("font-weight", "bold")
    .attr("fill", "#111")
    .text(panelLetters[idx]);

  // scan rate annotation in the top row
  if (row === 0) {
    var arrowPos = [[0.006, -2.9, 0.059, -6.9], [0.005, -1.4, 0.074, -6.9], [0.02, -1.3, 0.079, -6.7], [0.034, -2.4, 0.092, -6.4]][col];
    g.append("line")
      .attr("x1", x(arrowPos[0])).attr("y1", y(arrowPos[1]))
      .attr("x2", x(arrowPos[2])).attr("y2", y(arrowPos[3]))
      .attr("stroke", "#000").attr("stroke-width", 3)
      .attr("marker-end", "url(#arrowhead)");
    ["Increase", "scan", "rates"].forEach(function(w, i) {
      g.append("text")
        .attr("x", x(0.1)).attr("y", y(-3.8) + 8 + i * 26)
        .attr("font-family", "'Liberation Sans', sans-serif")
        .attr("font-size", 23).attr("fill", "#111")
        .text(w);
    });
  }
});

// group titles
groupTitles.forEach(function(t, i) {
  svg.append("text")
    .attr("x", left0 + i * pw + pw / 2).attr("y", 58)
    .attr("text-anchor", "middle")
    .attr("font-size", 20).attr("fill", "#111")
    .text(t);
});

// y axis titles
for (var r = 0; r < 3; r++) {
  var yt = svg.append("text")
    .attr("transform", `translate(31, ${top0 + r * ph + 100}) rotate(-90)`)
    .attr("text-anchor", "middle")
    .attr("font-size", 19).attr("fill", "#111");
  yt.append("tspan").attr("font-style", "italic").text("i");
  yt.append("tspan").text(" (mA/cm\u00B2)");
}

// x axis titles
for (var c = 0; c < 4; c++) {
  var xt = svg.append("text")
    .attr("x", left0 + c * pw + pw / 2).attr("y", 739)
    .attr("text-anchor", "middle")
    .attr("font-size", 21).attr("fill", "#111");
  xt.append("tspan").text("\u0394");
  xt.append("tspan").attr("font-style", "italic").text("\u03C6");
  xt.append("tspan").text(" (V)");
}

// orientation labels
orientLabels.forEach(function(t, i) {
  var cy = top0 + i * ph + ph / 2;
  svg.append("text")
    .attr("transform", `translate(1202, ${cy - 5}) rotate(90)`)
    .attr("text-anchor", "middle")
    .attr("font-size", 19).attr("fill", "#111")
    .text(t);
  svg.append("text")
    .attr("x", 1209).attr("y", cy + 80)
    .attr("text-anchor", "middle")
    .attr("font-size", 16).attr("fill", "#111")
    .text(orientSymbols[i]);
});

// title with arrow
var title = svg.append("text")
  .attr("x", 484).attr("y", 30)
  .attr("font-size", 24).attr("font-weight", "bold").attr("fill", "#111")
  .text("Increase dislocation density");
var tw = title.node().getComputedTextLength();
svg.append("line")
  .attr("x1", 268).attr("x2", 476).attr("y1", 22).attr("y2", 22)
  .attr("stroke", "#000").attr("stroke-width", 5);
svg.append("line")
  .attr("x1", 484 + tw + 8).attr("x2", 970).attr("y1", 22).attr("y2", 22)
  .attr("stroke", "#000").attr("stroke-width", 5);
svg.append("path")
  .attr("d", "M965,12 L1006,22 L965,32 Z")
  .attr("fill", "#000");

// legend
var legend = svg.append("g").attr("transform", "translate(1223, 288)");
legend.append("rect")
  .attr("width", 167).attr("height", 187)
  .attr("fill", "#fff").attr("stroke", "#333").attr("stroke-width", 1.3);
rateLabels.forEach(function(t, i) {
  var ly = 18 + i * 21;
  legend.append("line")
    .attr("x1", 10).attr("x2", 60).attr("y1", ly).attr("y2", ly)
    .attr("stroke", rateColors[i]).attr("stroke-width", 2);
  legend.append("text")
    .attr("x", 67).attr("y", ly + 6)
    .attr("font-size", 17).attr("fill", "#111")
    .text(t);
});
legend.append("line")
  .attr("x1", 10).attr("x2", 60).attr("y1", 129).attr("y2", 129)
  .attr("stroke", "#333").attr("stroke-width", 1.5).attr("stroke-dasharray", "1.5,1.5");
["v = 16mV/s", "without", "dislocation"].forEach(function(w, i) {
  legend.append("text")
    .attr("x", 67).attr("y", 135 + i * 21)
    .attr("font-size", 17).attr("fill", "#111")
    .text(w);
});
</script>
</body>
</html>
